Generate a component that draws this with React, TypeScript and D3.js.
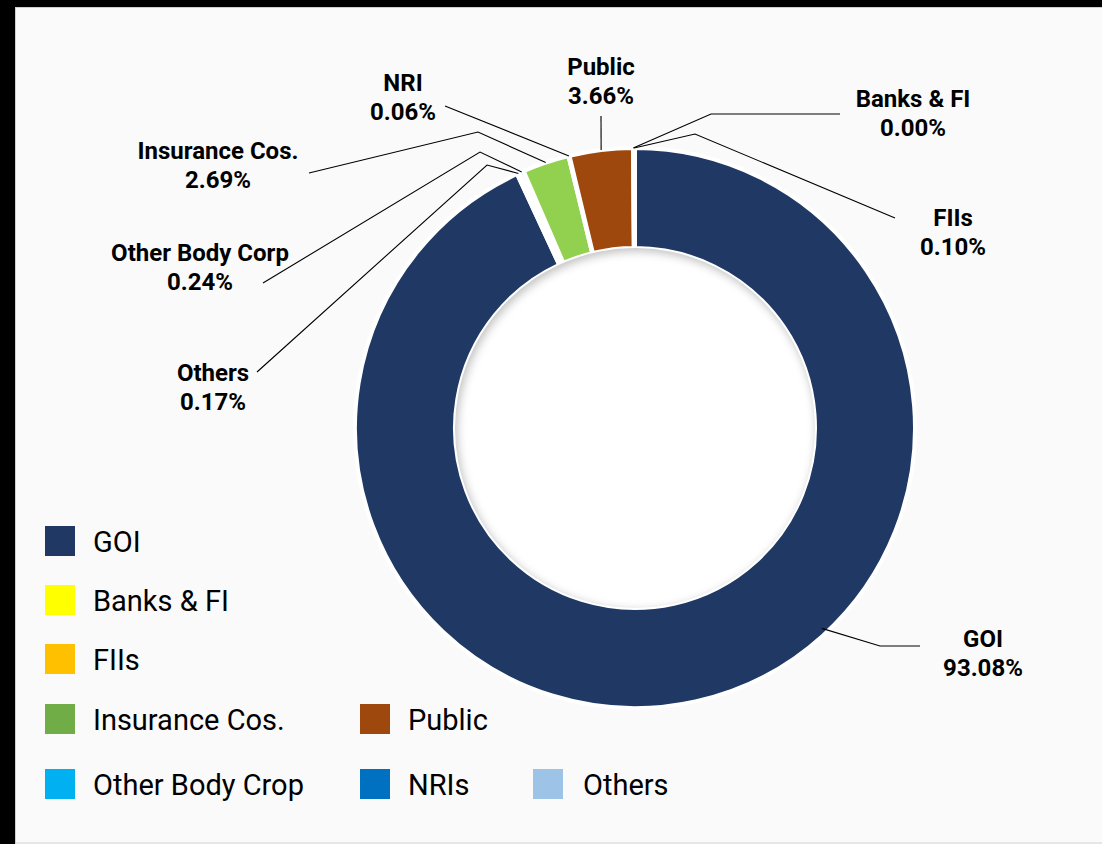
import React from "react";
import * as d3 from "d3";

// ---- data ----
const categories = ["GOI", "Others", "Other Body Corp", "Insurance Cos.", "NRI", "Public", "Banks & FI", "FIIs"];
const values = [93.08, 0.17, 0.24, 2.69, 0.06, 3.66, 0.0, 0.1];
const sliceColors = ["#203864", "#9DC3E6", "#00B0F0", "#92D050", "#0070C0", "#9E480E", "#FFFF00", "#FFC000"];

const legendNames = ["GOI", "Banks & FI", "FIIs", "Insurance Cos.", "Public", "Other Body Crop", "NRIs", "Others"];
const legendColors = ["#203864", "#FFFF00", "#FFC000", "#70AD47", "#9E480E", "#00B0F0", "#0070C0", "#9DC3E6"];

// ---- layout ----
const W = 1102;
const H = 844;
const CX = 635;
const CY = 428;
const R_OUT = 280;
const R_IN = 180;

type LabelLayout = { x: number; y: number; pts: [number, number][]; anchorDeg?: number; anchorR?: number };
const labelLayout: Record<string, LabelLayout> = {
  GOI: { x: 983, y: 647, pts: [[920, 646], [880, 646]], anchorDeg: 137, anchorR: 274 },
  Others: { x: 213, y: 381, pts: [[257, 372], [487, 165]] },
  "Other Body Corp": { x: 200, y: 261, pts: [[263, 283], [480, 152]] },
  "Insurance Cos.": { x: 218, y: 159, pts: [[309, 173], [478, 132]] },
  NRI: { x: 403, y: 91, pts: [[445, 106]] },
  Public: { x: 601, y: 75, pts: [[601, 116]] },
  "Banks & FI": { x: 913, y: 107, pts: [[840, 114], [711, 114]] },
  FIIs: { x: 953, y: 226, pts: [[895, 218], [695, 134]] },
};

const legendLayout = [
  { col: 0, row: 0 },
  { col: 0, row: 1 },
  { col: 0, row: 2 },
  { col: 0, row: 3 },
  { col: 1, row: 3 },
  { col: 0, row: 4 },
  { col: 1, row: 4 },
  { col: 2, row: 4 },
];
const legendColX = [45, 360, 533];
const legendTextX = [93, 408, 583];
const legendRowY = [541, 600, 659, 719, 784];

export default function App() {
  const pie = d3
    .pie<number>()
    .sort(null)
    .startAngle(0)
    .endAngle(2 * Math.PI)
    .value((d) => d);
  const arcs = pie(values);
  const arc = d3.arc<d3.PieArcDatum<number>>().innerRadius(R_IN).outerRadius(R_OUT);
  const pt = (ang: number, r: number): [number, number] => [CX + r * Math.sin(ang), CY - r * Math.cos(ang)];

  return (
    <div style={{ position: "absolute", left: 0, top: 0 }}>
      <svg width={W} height={H} style={{ display: "block" }}>
        <defs>
          <clipPath id="holeClip">
            <circle cx={CX} cy={CY} r={R_IN} />
          </clipPath>
          <filter id="blur" x="-20%" y="-20%" width="140%" height="140%">
            <feGaussianBlur stdDeviation="5" />
          </filter>
        </defs>
        <rect x={0} y={0} width={W} height={H} fill="#000" />
        <rect x={15} y={7} width={W - 15} height={H - 7} fill="#cfcfcf" />
        <rect x={16} y={8} width={W - 16} height={834} fill="#fafafa" />
        <rect x={16} y={842} width={W - 16} height={2} fill="#e6e6e6" />

        {arcs.map((a, i) => (
          <path
            key={categories[i]}
            d={arc(a) || ""}
            transform={`translate(${CX},${CY})`}
            fill={sliceColors[i]}
            stroke="#ffffff"
            strokeWidth={4}
            strokeLinejoin="miter"
          />
        ))}

        <circle cx={CX} cy={CY} r={R_IN} fill="#ffffff" />
        <g clipPath="url(#holeClip)">
          <circle
            cx={CX + 2}
            cy={CY + 3}
            r={R_IN + 6}
            fill="none"
            stroke="#8a8a8a"
            strokeWidth={12}
            opacity={0.55}
            filter="url(#blur)"
          />
        </g>

        {arcs.map((a, i) => {
          const name = categories[i];
          const L = labelLayout[name];
          const ang = L.anchorDeg !== undefined ? (L.anchorDeg * Math.PI) / 180 : (a.startAngle + a.endAngle) / 2;
          const start = pt(ang, L.anchorR ?? R_OUT);
          const points: [number, number][] = [...L.pts, start];
          const line = d3.line()(points) || "";
          return (
            <g key={"lbl" + name}>
              <path d={line} fill="none" stroke="#000" strokeWidth={1.1} />
              <text
                x={L.x}
                y={L.y}
                textAnchor="middle"
                fontFamily="Roboto, sans-serif"
                fontWeight={700}
                fontSize={24}
                fill="#000"
              >
                {name}
              </text>
              <text
                x={L.x}
                y={L.y + 29}
                textAnchor="middle"
                fontFamily="Roboto, sans-serif"
                fontWeight={700}
                fontSize={24}
                fill="#000"
              >
                {d3.format(".2f")(values[i]) + "%"}
              </text>
            </g>
          );
        })}

        {legendNames.map((n, i) => {
          const l = legendLayout[i];
          const cy = legendRowY[l.row];
          return (
            <g key={"leg" + n}>
              <rect x={legendColX[l.col]} y={cy - 15} width={30} height={30} fill={legendColors[i]} />
              <text
                x={legendTextX[l.col]}
                y={cy + 11}
                fontFamily="Roboto, sans-serif"
                fontSize={29}
                fill="#000"
              >
                {n}
              </text>
            </g>
          );
        })}
      </svg>
    </div>
  );
}
